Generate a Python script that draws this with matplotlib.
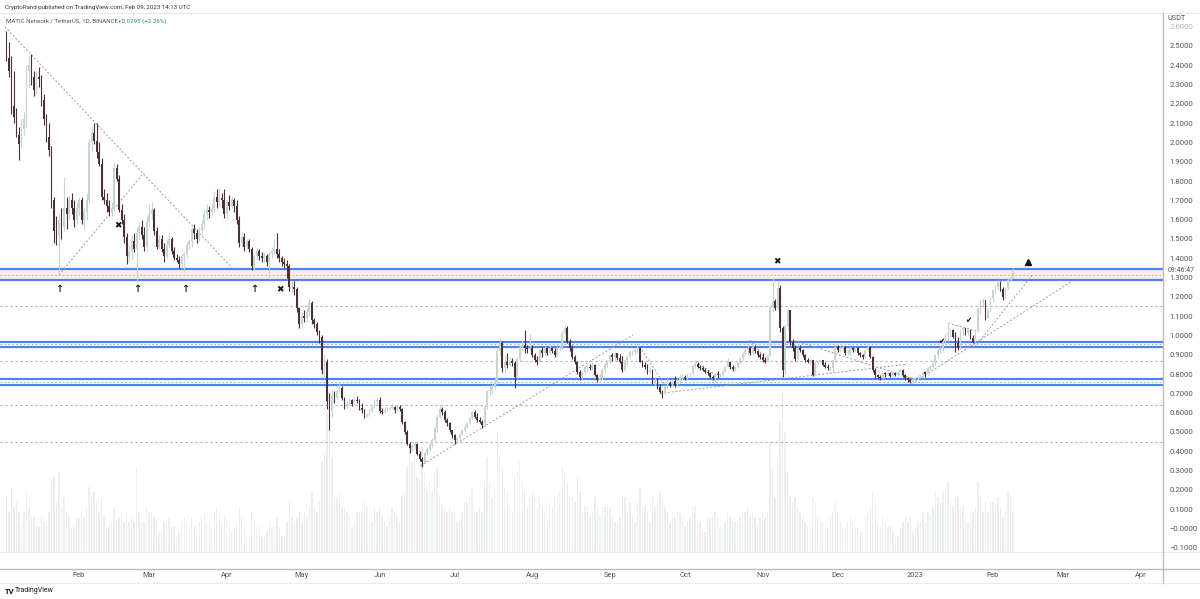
import numpy as np
import matplotlib
matplotlib.use('Agg')
import matplotlib.pyplot as plt
from matplotlib.lines import Line2D

plt.rcParams['font.family'] = ['Roboto', 'DejaVu Sans']

# ---- daily MATIC/USDT candles, 2022-01-03 .. 2023-02-09 (day index from 2022-01-01) ----
first_day = 2
first_open = 2.557

close = [
    # Jan 22
    2.44, 2.37, 2.19, 2.13, 2.04, 1.99, 2.07, 2.12, 2.37, 2.40, 2.34, 2.27, 2.34, 2.33, 2.22,
    2.12, 2.03, 1.96, 1.70, 1.54, 1.52, 1.60, 1.56, 1.66, 1.63, 1.70, 1.66, 1.60, 1.66,
    # Feb
    1.70, 1.60, 1.64, 1.70, 2.00, 2.05, 2.01, 1.95, 1.89, 1.72, 1.70, 1.67, 1.64, 1.66, 1.87,
    1.81, 1.65, 1.60, 1.51, 1.41, 1.43, 1.49, 1.45, 1.53, 1.56, 1.52, 1.46, 1.59,
    # Mar
    1.63, 1.65, 1.54, 1.46, 1.50, 1.45, 1.41, 1.47, 1.50, 1.44, 1.40, 1.39, 1.37, 1.41, 1.42,
    1.47, 1.49, 1.55, 1.53, 1.50, 1.54, 1.58, 1.63, 1.65, 1.64, 1.66, 1.72, 1.69, 1.71, 1.70, 1.63,
    # Apr
    1.69, 1.67, 1.70, 1.67, 1.60, 1.48, 1.51, 1.46, 1.49, 1.45, 1.36, 1.41, 1.44, 1.41, 1.40,
    1.41, 1.38, 1.42, 1.44, 1.45, 1.42, 1.40, 1.38, 1.37, 1.36, 1.25, 1.25, 1.24, 1.14, 1.06,
    # May
    1.10, 1.09, 1.12, 1.17, 1.08, 1.06, 1.02, 0.99, 0.82, 0.86, 0.66, 0.61, 0.69, 0.68, 0.71,
    0.73, 0.675, 0.631, 0.645, 0.665, 0.645, 0.665, 0.66, 0.625, 0.615, 0.58, 0.59, 0.61, 0.63, 0.66, 0.665,
    # Jun
    0.61, 0.605, 0.615, 0.62, 0.625, 0.63, 0.615, 0.63, 0.62, 0.55, 0.50, 0.44, 0.415, 0.425, 0.44,
    0.385, 0.36, 0.345, 0.39, 0.41, 0.43, 0.46, 0.52, 0.58, 0.62, 0.605, 0.56, 0.545, 0.51, 0.485,
    # Jul
    0.458, 0.467, 0.49, 0.51, 0.527, 0.545, 0.57, 0.605, 0.58, 0.562, 0.554, 0.537, 0.63, 0.71, 0.718,
    0.735, 0.76, 0.92, 0.96, 0.83, 0.86, 0.847, 0.87, 0.855, 0.787, 0.88, 0.94, 0.95, 0.935, 0.93, 0.934,
    # Aug
    0.90, 0.873, 0.865, 0.925, 0.908, 0.934, 0.908, 0.934, 0.92, 0.90, 0.934, 0.942, 1.013, 1.04, 0.968,
    0.934, 0.89, 0.865, 0.81, 0.787, 0.81, 0.838, 0.838, 0.83, 0.847, 0.795, 0.77, 0.78, 0.82, 0.847, 0.864,
    # Sep
    0.90, 0.89, 0.908, 0.882, 0.865, 0.82, 0.873, 0.89, 0.916, 0.916, 0.925, 0.934, 0.865, 0.847, 0.839,
    0.813, 0.82, 0.76, 0.77, 0.735, 0.709, 0.70, 0.735, 0.752, 0.745, 0.765, 0.745, 0.765, 0.785, 0.787,
    # Oct
    0.778, 0.80, 0.804, 0.84, 0.852, 0.838, 0.83, 0.821, 0.812, 0.804, 0.787, 0.778, 0.80, 0.795, 0.80,
    0.815, 0.838, 0.862, 0.835, 0.825, 0.838, 0.856, 0.885, 0.905, 0.925, 0.934, 0.91, 0.942, 0.918, 0.90, 0.89,
    # Nov
    0.873, 0.865, 0.90, 1.15, 1.18, 1.14, 1.245, 1.04, 0.82, 1.05, 1.13, 0.968, 0.934, 0.88, 0.934,
    0.925, 0.90, 0.873, 0.865, 0.873, 0.795, 0.856, 0.865, 0.873, 0.847, 0.838, 0.83, 0.83, 0.873, 0.942,
    # Dec
    0.925, 0.93, 0.942, 0.908, 0.91, 0.934, 0.925, 0.934, 0.908, 0.899, 0.89, 0.925, 0.942, 0.89, 0.82,
    0.795, 0.787, 0.778, 0.804, 0.80, 0.804, 0.79, 0.804, 0.795, 0.812, 0.821, 0.795, 0.778, 0.769, 0.76, 0.776,
    # Jan 23
    0.78, 0.787, 0.795, 0.812, 0.80, 0.83, 0.838, 0.856, 0.90, 0.925, 0.934, 0.968, 1.002, 1.011, 1.028,
    0.994, 0.96, 0.933, 1.03, 1.037, 1.011, 1.028, 0.985, 0.968, 1.03, 1.14, 1.175, 1.184, 1.09, 1.132, 1.193,
    # Feb 23
    1.236, 1.253, 1.279, 1.24, 1.20, 1.244, 1.287, 1.305, 1.3345,
]

high = [
    2.58, 2.52, 2.45, 2.37, 2.18, 2.08, 2.12, 2.16, 2.40, 2.45, 2.46, 2.37, 2.37, 2.39, 2.35,
    2.25, 2.15, 2.10, 1.98, 1.72, 1.62, 1.63, 1.66, 1.82, 1.72, 1.73, 1.74, 1.70, 1.69,
    1.72, 1.72, 1.66, 1.74, 2.02, 2.08, 2.10, 2.10, 2.00, 1.92, 1.76, 1.74, 1.70, 1.69, 1.90,
    1.89, 1.83, 1.68, 1.63, 1.53, 1.47, 1.52, 1.53, 1.56, 1.59, 1.60, 1.56, 1.62,
    1.68, 1.69, 1.66, 1.56, 1.52, 1.52, 1.48, 1.50, 1.54, 1.51, 1.46, 1.42, 1.41, 1.42, 1.43,
    1.48, 1.50, 1.56, 1.58, 1.55, 1.56, 1.60, 1.65, 1.68, 1.67, 1.68, 1.75, 1.76, 1.77, 1.74, 1.76,
    1.70, 1.73, 1.72, 1.71, 1.70, 1.62, 1.54, 1.53, 1.50, 1.50, 1.46, 1.42, 1.46, 1.45, 1.43,
    1.43, 1.42, 1.43, 1.46, 1.50, 1.53, 1.45, 1.41, 1.40, 1.39, 1.37, 1.28, 1.28, 1.25, 1.15,
    1.12, 1.13, 1.14, 1.19, 1.18, 1.09, 1.07, 1.03, 1.00, 0.90, 0.88, 0.70, 0.72, 0.71, 0.72,
    0.752, 0.74, 0.68, 0.66, 0.68, 0.67, 0.68, 0.685, 0.67, 0.65, 0.62, 0.60, 0.62, 0.64, 0.67, 0.683,
    0.68, 0.625, 0.63, 0.63, 0.635, 0.65, 0.635, 0.64, 0.64, 0.625, 0.555, 0.51, 0.45, 0.44, 0.45,
    0.445, 0.40, 0.37, 0.395, 0.42, 0.445, 0.47, 0.53, 0.59, 0.64, 0.63, 0.615, 0.57, 0.55, 0.51,
    0.49, 0.475, 0.495, 0.515, 0.535, 0.55, 0.575, 0.61, 0.615, 0.60, 0.58, 0.56, 0.64, 0.72, 0.74,
    0.75, 0.78, 0.94, 0.985, 0.97, 0.90, 0.91, 0.89, 0.885, 0.87, 0.89, 0.95, 0.97, 1.03, 0.95, 1.01,
    0.95, 0.91, 0.895, 0.93, 0.94, 0.945, 0.94, 0.95, 0.94, 0.935, 0.945, 0.95, 1.03, 1.054, 1.05,
    0.98, 0.95, 0.90, 0.87, 0.82, 0.815, 0.845, 0.85, 0.85, 0.86, 0.85, 0.80, 0.80, 0.83, 0.855, 0.875,
    0.905, 0.91, 0.915, 0.91, 0.905, 0.895, 0.88, 0.90, 0.925, 0.925, 0.93, 0.96, 0.94, 0.875, 0.86,
    0.85, 0.835, 0.825, 0.78, 0.78, 0.75, 0.72, 0.745, 0.78, 0.765, 0.775, 0.79, 0.775, 0.795, 0.80,
    0.795, 0.805, 0.81, 0.845, 0.873, 0.86, 0.845, 0.84, 0.83, 0.82, 0.81, 0.795, 0.805, 0.815, 0.805,
    0.82, 0.84, 0.882, 0.865, 0.845, 0.84, 0.86, 0.89, 0.915, 0.935, 0.95, 0.945, 0.95, 0.95, 0.925, 0.91,
    0.91, 0.89, 0.905, 1.16, 1.296, 1.19, 1.28, 1.26, 1.05, 1.06, 1.14, 1.13, 0.98, 0.95, 0.94,
    0.95, 0.93, 0.905, 0.885, 0.88, 0.875, 0.86, 0.87, 0.88, 0.875, 0.86, 0.85, 0.84, 0.875, 0.945,
    0.95, 0.945, 0.95, 0.945, 0.93, 0.94, 0.935, 0.94, 0.94, 0.915, 0.905, 0.93, 0.95, 0.945, 0.895,
    0.83, 0.80, 0.795, 0.81, 0.81, 0.81, 0.81, 0.81, 0.81, 0.815, 0.825, 0.825, 0.80, 0.785, 0.775, 0.78,
    0.785, 0.79, 0.80, 0.815, 0.815, 0.835, 0.845, 0.86, 0.905, 0.93, 0.945, 0.975, 1.01, 1.06, 1.04,
    1.035, 1.02, 0.99, 1.035, 1.045, 1.04, 1.035, 1.03, 1.00, 1.035, 1.15, 1.185, 1.195, 1.185, 1.14, 1.20,
    1.24, 1.26, 1.285, 1.28, 1.25, 1.25, 1.296, 1.31, 1.348,
]

low = [
    2.42, 2.34, 2.15, 2.10, 2.03, 1.91, 1.97, 2.04, 2.08, 2.28, 2.30, 2.24, 2.25, 2.29, 2.19,
    2.09, 2.00, 1.93, 1.66, 1.48, 1.47, 1.32, 1.50, 1.54, 1.55, 1.60, 1.63, 1.56, 1.58,
    1.62, 1.58, 1.55, 1.60, 1.68, 1.95, 1.99, 1.92, 1.88, 1.70, 1.68, 1.64, 1.62, 1.62, 1.64,
    1.80, 1.64, 1.58, 1.48, 1.37, 1.38, 1.39, 1.43, 1.27, 1.50, 1.50, 1.44, 1.43,
    1.56, 1.60, 1.52, 1.45, 1.45, 1.43, 1.38, 1.40, 1.46, 1.42, 1.39, 1.38, 1.35, 1.35, 1.33,
    1.40, 1.45, 1.46, 1.50, 1.48, 1.49, 1.52, 1.55, 1.60, 1.61, 1.62, 1.64, 1.66, 1.67, 1.66, 1.61,
    1.60, 1.65, 1.66, 1.64, 1.58, 1.46, 1.46, 1.44, 1.45, 1.43, 1.34, 1.34, 1.39, 1.39, 1.38,
    1.38, 1.36, 1.30, 1.40, 1.42, 1.40, 1.38, 1.36, 1.35, 1.30, 1.23, 1.22, 1.21, 1.12, 1.04,
    1.04, 1.07, 1.07, 1.10, 1.06, 1.04, 1.00, 0.96, 0.80, 0.78, 0.62, 0.51, 0.58, 0.65, 0.67,
    0.70, 0.665, 0.62, 0.625, 0.64, 0.635, 0.64, 0.65, 0.615, 0.60, 0.57, 0.575, 0.585, 0.605, 0.625, 0.645,
    0.60, 0.595, 0.60, 0.61, 0.615, 0.62, 0.60, 0.61, 0.61, 0.54, 0.49, 0.43, 0.39, 0.40, 0.41,
    0.38, 0.35, 0.32, 0.34, 0.38, 0.40, 0.42, 0.45, 0.50, 0.57, 0.59, 0.55, 0.53, 0.50, 0.47,
    0.44, 0.445, 0.46, 0.485, 0.50, 0.52, 0.54, 0.565, 0.57, 0.55, 0.545, 0.52, 0.53, 0.62, 0.69,
    0.70, 0.725, 0.75, 0.90, 0.81, 0.81, 0.83, 0.84, 0.84, 0.726, 0.78, 0.87, 0.92, 0.91, 0.91, 0.92,
    0.89, 0.86, 0.845, 0.86, 0.89, 0.90, 0.90, 0.90, 0.91, 0.89, 0.895, 0.92, 0.93, 1.00, 0.96,
    0.92, 0.88, 0.85, 0.80, 0.77, 0.775, 0.80, 0.815, 0.82, 0.82, 0.79, 0.76, 0.76, 0.77, 0.81, 0.835,
    0.855, 0.87, 0.875, 0.875, 0.855, 0.81, 0.815, 0.845, 0.88, 0.90, 0.905, 0.91, 0.86, 0.835, 0.825,
    0.80, 0.805, 0.75, 0.745, 0.725, 0.70, 0.674, 0.695, 0.725, 0.735, 0.74, 0.735, 0.74, 0.755, 0.77,
    0.77, 0.775, 0.785, 0.795, 0.83, 0.83, 0.82, 0.815, 0.805, 0.795, 0.78, 0.77, 0.752, 0.78, 0.785,
    0.79, 0.81, 0.835, 0.825, 0.815, 0.815, 0.83, 0.85, 0.875, 0.895, 0.905, 0.90, 0.905, 0.91, 0.89, 0.88,
    0.86, 0.855, 0.86, 0.895, 1.12, 1.13, 1.13, 1.02, 0.786, 0.80, 1.03, 0.95, 0.92, 0.87, 0.875,
    0.915, 0.89, 0.865, 0.855, 0.85, 0.79, 0.79, 0.845, 0.855, 0.84, 0.83, 0.82, 0.815, 0.813, 0.87,
    0.915, 0.915, 0.92, 0.90, 0.90, 0.90, 0.915, 0.915, 0.90, 0.89, 0.88, 0.885, 0.92, 0.885, 0.81,
    0.78, 0.775, 0.77, 0.775, 0.785, 0.79, 0.785, 0.785, 0.79, 0.79, 0.805, 0.785, 0.77, 0.76, 0.755, 0.755,
    0.765, 0.77, 0.78, 0.79, 0.785, 0.795, 0.82, 0.83, 0.845, 0.885, 0.91, 0.92, 0.96, 0.97, 0.99,
    0.985, 0.916, 0.925, 0.93, 1.00, 1.005, 1.00, 0.98, 0.96, 0.965, 1.02, 1.11, 1.145, 1.08, 1.085, 1.12,
    1.18, 1.22, 1.24, 1.23, 1.185, 1.19, 1.24, 1.28, 1.30,
]

# volume, millions of MATIC
volume = [
    138, 100, 163, 113, 125, 100, 75, 100, 150, 113, 88, 88, 63, 63, 88, 75, 75, 100, 175, 188,
    125, 200, 113, 138, 100, 88, 63, 63, 88,
    88, 100, 88, 113, 163, 138, 150, 125, 100, 138, 88, 63, 63, 75, 113, 75, 88, 88, 75, 100,
    75, 88, 75, 213, 100, 75, 75, 113,
    100, 100, 88, 75, 50, 50, 75, 75, 88, 63, 63, 38, 50, 75, 88, 75, 63, 88, 63, 50,
    75, 88, 100, 75, 75, 63, 100, 113, 100, 75, 88,
    75, 63, 50, 63, 75, 113, 88, 63, 38, 38, 100, 75, 63, 63, 38, 38, 50, 75, 63, 63,
    88, 63, 38, 38, 75, 125, 88, 75, 88, 100,
    75, 100, 88, 113, 150, 113, 100, 125, 225, 250, 350, 363, 238, 138, 138, 150, 113, 113, 100, 88,
    63, 75, 100, 100, 100, 125, 113, 75, 75, 113, 100,
    113, 88, 75, 63, 88, 113, 100, 88, 75, 138, 150, 213, 275, 225, 250, 188, 175, 263, 200, 163,
    175, 150, 200, 213, 138, 113, 113, 100, 113, 100,
    100, 75, 75, 100, 125, 125, 138, 163, 100, 100, 113, 100, 175, 238, 175, 138, 150, 300, 238, 213,
    163, 150, 113, 100, 188, 200, 225, 175, 150, 113, 138,
    150, 138, 113, 138, 113, 100, 75, 125, 113, 138, 138, 150, 213, 200, 175, 138, 138, 125, 188, 150,
    100, 113, 113, 88, 100, 138, 113, 88, 113, 113, 113,
    113, 88, 75, 75, 88, 138, 138, 100, 125, 88, 75, 125, 163, 113, 113, 100, 75, 138, 113, 125,
    150, 138, 113, 100, 75, 88, 88, 100, 100, 88,
    63, 75, 88, 113, 113, 75, 75, 50, 50, 88, 88, 88, 100, 88, 63, 63, 75, 100, 88, 75,
    75, 75, 88, 100, 100, 113, 88, 100, 88, 75, 88,
    100, 88, 100, 275, 213, 138, 238, 325, 400, 300, 200, 138, 125, 138, 113, 100, 88, 75, 63, 63,
    138, 125, 88, 75, 75, 63, 63, 88, 100, 125,
    100, 75, 63, 63, 75, 88, 75, 63, 63, 50, 50, 88, 100, 113, 150, 125, 75, 63, 88, 75,
    63, 63, 50, 38, 38, 63, 75, 88, 75, 88, 50,
    63, 75, 75, 100, 75, 100, 88, 113, 150, 138, 125, 150, 163, 175, 125, 113, 138, 138, 113, 113,
    88, 75, 100, 100, 113, 175, 138, 100, 125, 100, 125,
    125, 113, 138, 113, 88, 100, 150, 138, 100,
]

# drawn levels (price)
blue_levels = [1.342, 1.288, 0.968, 0.942, 0.773, 0.743]
mid_levels = [0.955, 0.758]
dotted_levels = [1.153, 0.868, 0.640, 0.448]
band = (1.288, 1.342)

# drawn trend lines: (day0, price0, day1, price1)
trend_lines = [
    (1.4, 2.60, 92.1, 1.35),
    (23.0, 1.313, 56.9, 1.843),
    (167.2, 0.324, 252.2, 1.003),
    (263.0, 0.70, 360.9, 0.85),
    (318.3, 0.968, 363.5, 0.778),
    (364.9, 0.761, 427.6, 1.282),
    (388.8, 0.942, 412.0, 1.318),
    (378.2, 1.063, 390.1, 1.020),
    (255.7, 0.925, 265.0, 0.744),
    (277.0, 0.864, 286.3, 0.787),
    (299.0, 0.977, 305.6, 0.873),
]

# drawn icons: (day, price)
up_arrows = [(23.0, 1.241), (54.2, 1.241), (73.3, 1.241), (101.0, 1.241)]
crosses = [(46.6, 1.567), (111.3, 1.236), (309.9, 1.381)]
checks = [(375.2, 0.970), (386.3, 1.075)]
alerts = [(410.0, 1.379)]

months = ['2022-02-01', '2022-03-01', '2022-04-01', '2022-05-01', '2022-06-01', '2022-07-01',
          '2022-08-01', '2022-09-01', '2022-10-01', '2022-11-01', '2022-12-01', '2023-01-01',
          '2023-02-01', '2023-03-01', '2023-04-01']
month_labels = ['Feb', 'Mar', 'Apr', 'May', 'Jun', 'Jul', 'Aug', 'Sep', 'Oct', 'Nov', 'Dec',
                '2023', 'Feb', 'Mar', 'Apr']

price_ticks = [2.6, 2.5, 2.4, 2.3, 2.2, 2.1, 2.0, 1.9, 1.8, 1.7, 1.6, 1.5, 1.4, 1.3, 1.2,
               1.1, 1.0, 0.9, 0.8, 0.7, 0.6, 0.5, 0.4, 0.3, 0.2, 0.1, 0.0, -0.1]
price_tick_labels = ['2.6000', '2.5000', '2.4000', '2.3000', '2.2000', '2.1000', '2.0000',
                     '1.9000', '1.8000', '1.7000', '1.6000', '1.5000', '1.4000', '1.3000',
                     '1.2000', '1.1000', '1.0000', '0.9000', '0.8000', '0.7000', '0.6000',
                     '0.5000', '0.4000', '0.3000', '0.2000', '0.1000', '\u22120.0000', '\u22120.1000']

close = np.array(close)
high = np.array(high)
low = np.array(low)
volume = np.array(volume)
assert len(close) == len(high) == len(low) == len(volume) == 403
open_ = np.concatenate([[first_open], close[:-1]])
high = np.maximum(high, np.maximum(open_, close))
low = np.minimum(low, np.minimum(open_, close))
x = np.arange(len(close)) + first_day

UP, DOWN = '#c6d6cb', '#4b3137'
VUP, VDOWN = '#edf1ee', '#f1ecec'
BLUE = '#4d84f3'
GRID = '#9a9a9a'

W, H = 1200, 599
fig = plt.figure(figsize=(12, 5.99), dpi=100)
fig.patch.set_facecolor('white')


def fx(px):
    return px / W


def fy(py):
    return 1 - py / H


ax = fig.add_axes([0, fy(552), fx(1163), (552 - 13) / H])
ax.set_xlim(-0.56, 463.9)
ax.set_ylim(-0.122, 2.671)
ax.patch.set_visible(False)
for s in ax.spines.values():
    s.set_visible(False)

# volume underlay
axv = ax.twinx()
axv.set_zorder(ax.get_zorder() - 1)
axv.set_ylim(0, 1350)
axv.axis('off')
up = close >= open_
axv.bar(x, volume, width=0.55, color=np.where(up, VUP, VDOWN), linewidth=0)

# levels
ax.axhspan(band[0], band[1], color='#fdeeee', zorder=1, lw=0)
ax.axhline(sum(band) / 2, color='#e4a4a4', lw=0.7, ls=(0, (2, 2)), zorder=2)
for lv in blue_levels:
    ax.axhline(lv, color=BLUE, lw=1.6, zorder=3)
for lv in mid_levels:
    ax.axhline(lv, color='#b5b5b5', lw=0.7, ls=(0, (2, 2)), zorder=2)
for lv in dotted_levels:
    ax.axhline(lv, color='#b0b0b0', lw=0.8, ls=(0, (2, 2.5)), zorder=2)

for d0, p0, d1, p1 in trend_lines:
    ax.plot([d0, d1], [p0, p1], color=GRID, lw=0.7, ls=(0, (2, 2)), zorder=4)

# candles
col = np.where(up, UP, DOWN)
ax.vlines(x, low, high, colors=col, lw=0.8, zorder=5)
ax.bar(x, np.maximum(np.abs(close - open_), 0.004), bottom=np.minimum(open_, close),
       width=0.72, color=col, linewidth=0, zorder=6)

for d, p in up_arrows:
    ax.text(d, p, '\u2191', ha='center', va='center', fontsize=7, fontweight='bold',
            color='#222222', family='DejaVu Sans', zorder=7)
for d, p in crosses:
    ax.text(d, p, '\u2716', ha='center', va='center', fontsize=6.5, color='#111111',
            family='DejaVu Sans', zorder=7)
for d, p in checks:
    ax.text(d, p, '\u2714', ha='center', va='center', fontsize=5.5, color='#111111',
            family='DejaVu Sans', zorder=7)
for d, p in alerts:
    ax.plot(d, p, marker='^', ms=3.8, color='#111111', zorder=7)

# right price scale
ax.yaxis.tick_right()
ax.set_yticks(price_ticks)
ax.set_yticklabels(price_tick_labels)
ax.tick_params(axis='y', length=0, pad=4.5, labelsize=5.6, labelcolor='#555555')
ax.get_yticklabels()[0].set_color('#b8b8b8')
ax.set_xticks([])

# time scale
base = np.datetime64('2022-01-01')
month_pos = [(np.datetime64(m) - base).astype(int) for m in months]
axt = fig.add_axes([0, fy(569), fx(1163), (569 - 552) / H])
axt.set_xlim(ax.get_xlim())
axt.set_yticks([])
axt.set_xticks(month_pos)
axt.set_xticklabels(month_labels)
axt.tick_params(axis='x', length=0, pad=2.5, labelsize=5.4, labelcolor='#555555')
axt.patch.set_visible(False)
for s in axt.spines.values():
    s.set_visible(False)


# frame lines
def hline(py, x0, x1, c, lw=0.8):
    fig.add_artist(Line2D([fx(x0), fx(x1)], [fy(py), fy(py)], color=c, lw=lw))


hline(13, 0, 1200, '#e6e8ee')
hline(552, 0, 1200, '#ebebeb')
hline(569, 0, 1200, '#bdbdbd', 1.0)
hline(583, 0, 1200, '#ececec')
fig.add_artist(Line2D([fx(1163), fx(1163)], [fy(13), fy(583)], color='#bdbdbd', lw=1.0))

# header texts
fig.text(fx(5), fy(7), 'CryptoRand published on TradingView.com, Feb 09, 2023 14:13 UTC',
         fontsize=4.4, color='#333333', va='center')
fig.text(fx(6), fy(21), 'MATIC Network / TetherUS, 1D, BINANCE', fontsize=4.4,
         color='#555555', va='center')
fig.text(fx(118), fy(21), '+0.0295 (+2.26%)', fontsize=4.4, color='#2e8b57', va='center')
fig.text(fx(1168), fy(18), 'USDT', fontsize=5.2, color='#555555', va='center')
fig.text(fx(1168), fy(270), '09:46:47', fontsize=5.0, color='#555555', va='center')
fig.text(fx(5), fy(591), 'TV', fontsize=5.5, fontweight='bold', color='#131722', va='center')
fig.text(fx(15), fy(591), 'TradingView', fontsize=5.0, color='#131722', va='center')

fig.savefig('out.png', dpi=100, facecolor='white')
